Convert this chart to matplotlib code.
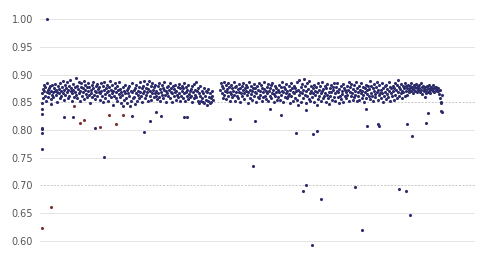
import numpy as np
import matplotlib.pyplot as plt

# main band of readings, thousandths (left part before the gap)
band_left = [
    866,874,858,881,870,862,877,853,869,884,872,860,875,866,879,856,871,864,882,868,
    859,876,870,883,863,873,851,868,880,866,874,858,885,870,862,877,867,889,855,872,
    881,864,875,869,886,858,873,879,862,891,870,876,853,867,883,872,860,878,869,893,
    864,880,857,874,887,866,871,852,878,884,862,875,869,888,856,873,881,865,877,860,
    870,885,863,878,848,872,866,882,859,875,887,864,871,856,879,868,883,861,874,869,
    877,855,866,884,871,862,879,850,873,886,865,858,876,869,882,853,871,878,864,888,
    859,873,867,881,846,870,862,876,884,857,868,879,852,872,865,887,860,874,848,869,
    863,878,844,871,855,867,882,858,873,849,866,876,861,879,843,870,853,868,884,857,
    872,860,875,847,866,881,852,870,864,878,857,886,868,862,875,850,880,866,889,871,
    858,876,864,883,869,852,874,888,861,870,879,855,867,884,873,859,877,866,882,862,
    871,856,879,867,885,860,874,853,869,881,864,876,858,872,886,863,870,851,878,866,
    880,862,873,857,884,868,875,850,866,879,861,874,869,882,855,871,864,877,859,883,
    867,853,875,862,880,871,858,876,866,884,852,869,878,861,873,856,881,865,870,859,
    874,862,879,851,868,883,857,872,864,886,859,870,853,876,867,848,880,862,852,871,
    858,850,866,876,849,862,871,855,846,868,853,874,860,849,866,857,851,870,862,855,
]
gap_len = 12  # missing samples
band_right = [
    872,884,866,879,858,875,887,863,870,881,856,874,868,885,861,877,852,869,882,865,
    876,859,871,886,864,878,853,869,880,862,874,857,883,868,875,850,866,879,861,872,
    884,867,856,875,870,881,863,877,849,869,886,858,873,865,880,854,871,876,862,883,
    868,875,851,866,879,860,873,885,857,870,864,882,853,876,868,859,874,887,862,871,
    856,878,866,883,852,870,861,875,881,858,867,884,873,850,865,879,862,876,869,854,
    873,860,882,868,855,877,864,871,886,851,869,878,859,874,866,883,857,870,862,880,
    865,849,872,884,861,876,853,868,880,866,858,875,870,887,855,872,846,864,890,869,
    877,851,883,866,873,858,892,864,879,848,870,885,861,874,856,888,867,852,880,871,
    859,875,866,882,850,871,863,877,845,868,884,856,873,861,879,866,853,870,886,858,
    874,862,880,867,851,876,864,883,857,869,847,875,862,881,868,854,872,878,860,885,
    866,853,877,871,884,859,868,848,874,862,880,856,870,865,883,851,876,861,873,868,
    857,879,864,872,886,852,869,877,861,883,866,855,874,881,859,870,864,887,853,876,
    869,862,880,855,873,866,884,858,871,878,863,850,875,868,882,857,872,865,879,861,
    874,888,856,867,880,862,875,852,870,883,865,859,877,869,886,854,872,863,881,866,
    858,873,867,884,851,876,862,879,869,856,882,865,874,860,871,887,853,878,866,875,
    862,880,870,855,876,884,864,872,858,881,868,891,861,877,874,866,883,870,857,879,
    868,875,885,862,879,871,876,864,882,873,869,880,876,871,884,878,866,874,881,872,
    877,870,883,875,868,879,873,881,876,869,884,872,878,865,880,874,871,877,860,866,
    873,879,868,876,871,882,874,867,878,872,876,870,881,875,869,877,872,878,874,871,
    876,870,865,872,858,851,849,864,
]

# readings off the band (sample index, value)
low_idx = [0, 0, 0, 0, 0, 0, 0, 9, 16, 38, 55, 93, 108, 157, 178, 189, 199, 208,
           249, 253, 328, 369, 373, 399, 418, 444, 456, 461, 462, 472, 474, 481,
           487, 547, 559, 566, 569, 588, 589, 624, 637, 638, 643, 647, 672, 675,
           697, 699]
low_val = [0.848, 0.838, 0.829, 0.804, 0.801, 0.795, 0.766, 1.000, 0.847, 0.823,
           0.823, 0.804, 0.751, 0.825, 0.796, 0.816, 0.832, 0.826, 0.824, 0.823,
           0.820, 0.735, 0.817, 0.838, 0.828, 0.795, 0.690, 0.700, 0.836, 0.592,
           0.792, 0.798, 0.676, 0.698, 0.620, 0.838, 0.808, 0.811, 0.808, 0.693,
           0.690, 0.811, 0.647, 0.789, 0.813, 0.830, 0.835, 0.832]
# second group (reddish dots)
red_idx = [0, 16, 56, 67, 73, 101, 117, 129, 142]
red_val = [0.623, 0.662, 0.844, 0.813, 0.819, 0.806, 0.828, 0.810, 0.828]

band = np.array(band_left + [np.nan] * gap_len + band_right) / 1000
x = np.arange(len(band))

fig = plt.figure(figsize=(4.93, 2.57), dpi=100)
ax = fig.add_axes([0.0811, 0.0195, 0.882, 0.949])

navy = '#2c2c6c'
ax.scatter(x, band, s=5, color=navy, linewidths=0, zorder=3)
ax.scatter(low_idx, low_val, s=5, color=navy, linewidths=0, zorder=3)
ax.scatter(red_idx, red_val, s=5, color='#7a3232', linewidths=0, zorder=3)

ticks = [0.60, 0.65, 0.70, 0.75, 0.80, 0.85, 0.90, 0.95, 1.00]
for t in ticks:
    if t in (0.85, 0.70):
        ax.axhline(t, color='#c8c8c8', lw=0.7, ls=(0, (2, 1.5)), zorder=1)
    else:
        ax.axhline(t, color='#e4e4e4', lw=0.7, zorder=1)

ax.set_ylim(0.58, 1.02)
ax.set_xlim(-3.5, 756.7)
ax.set_yticks(ticks)
ax.set_yticklabels(['%.2f' % t for t in ticks])
ax.set_xticks([])
ax.tick_params(axis='y', length=0, pad=5, labelsize=7, labelcolor='#555555')
for s in ax.spines.values():
    s.set_visible(False)

fig.savefig('out.png', dpi=100)
